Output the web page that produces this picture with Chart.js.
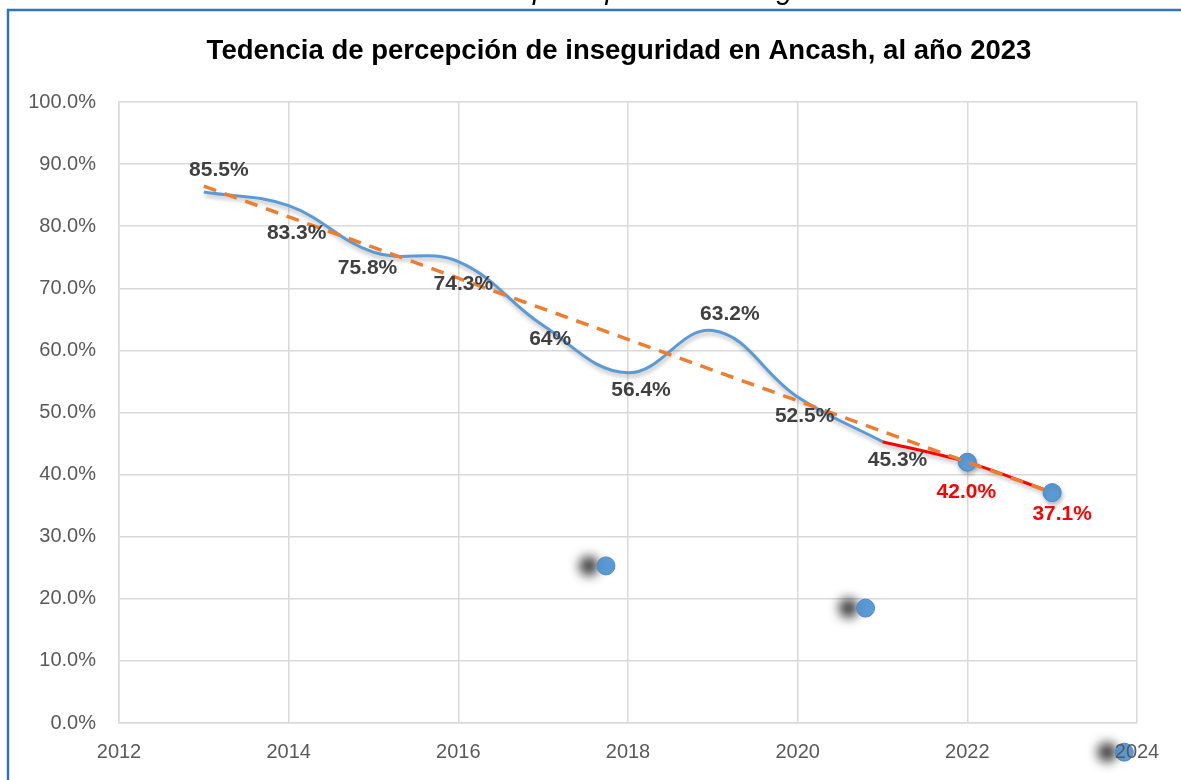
<!DOCTYPE html>
<html>
<head>
<meta charset="utf-8">
<script src="https://cdn.jsdelivr.net/npm/chart.js"></script>
<style>
  html, body { margin: 0; padding: 0; background: #fff; }
  canvas { display: block; }
</style>
</head>
<body>
<canvas id="grafico" width="1181" height="780"></canvas>
<script>
// percepción de inseguridad por año (%)
const anios = [2013, 2014, 2015, 2016, 2017, 2018, 2019, 2020, 2021, 2022, 2023];
const percepcion = [85.5, 83.3, 75.8, 74.3, 64, 56.4, 63.2, 52.5, 45.3, 42.0, 37.1];
const etiquetas = ['85.5%', '83.3%', '75.8%', '74.3%', '64%', '56.4%', '63.2%', '52.5%', '45.3%', '42.0%', '37.1%'];

// marcadores sueltos que quedaron sobre el gráfico
const sueltosX = [2017.74, 2020.8, 2023.85];
const sueltosY = [25.3, 18.5, -4.7];

const ticksX = [2012, 2014, 2016, 2018, 2020, 2022, 2024];

const titulo = 'Tedencia de percepción de inseguridad en Ancash, al año 2023';

// desplazamiento de cada etiqueta respecto a su punto (px)
const offsetsEtiq = [[15, -22], [8, 27], [-6, 16], [5, 23], [7, 14], [13, 17], [17, -16], [7, 19], [15, 19], [-1, 30], [10, 22]];

const AZUL = '#5B9BD5';
const ROJO = '#FF0000';
const NARANJA = '#ED7D31';
const GRIS = '#404040';

const pts = (xs, ys) => xs.map((x, i) => ({ x: x, y: ys[i] }));

// tendencia lineal (mínimos cuadrados), como la de Excel
function tendencia(xs, ys) {
  const n = xs.length;
  const mx = xs.reduce((a, b) => a + b, 0) / n;
  const my = ys.reduce((a, b) => a + b, 0) / n;
  let sxy = 0, sxx = 0;
  xs.forEach((x, i) => { sxy += (x - mx) * (ys[i] - my); sxx += (x - mx) * (x - mx); });
  const m = sxy / sxx;
  const b = my - m * mx;
  const x0 = xs[0], x1 = xs[n - 1];
  return [{ x: x0, y: m * x0 + b }, { x: x1, y: m * x1 + b }];
}

const corte = 8; // desde 2021 la línea va en rojo
const tramoAzul = pts(anios.slice(0, corte + 1), percepcion.slice(0, corte + 1));
const tramoRojo = pts(anios.slice(corte), percepcion.slice(corte));

const marcoYTexto = {
  id: 'marcoYTexto',
  beforeDraw(chart) {
    const ctx = chart.ctx;
    ctx.save();
    ctx.fillStyle = '#fff';
    ctx.fillRect(0, 0, chart.width, chart.height);
    // leyenda de la figura, cortada por el borde superior
    ctx.fillStyle = '#000';
    ctx.font = 'italic 29px "Liberation Sans", Arial, sans-serif';
    ctx.textBaseline = 'alphabetic';
    ctx.textAlign = 'left';
    ctx.fillText('percepción de inseguridad', 533, -1);
    // marco del gráfico
    ctx.strokeStyle = '#2E75B6';
    ctx.lineWidth = 2.5;
    ctx.beginPath();
    ctx.moveTo(8, chart.height + 5);
    ctx.lineTo(8, 10);
    ctx.lineTo(chart.width + 5, 10);
    ctx.stroke();
    // título
    ctx.fillStyle = '#000';
    ctx.font = 'bold 27.5px "Liberation Sans", Arial, sans-serif';
    ctx.textAlign = 'center';
    ctx.textBaseline = 'middle';
    ctx.fillText(titulo, 619, 51);
    ctx.restore();
  }
};

function sombraPunto(ctx) {
  ctx.shadowColor = 'rgba(0,0,0,0.8)';
  ctx.shadowBlur = 11;
  ctx.shadowOffsetX = -17;
  ctx.shadowOffsetY = 0;
}

const sombras = {
  id: 'sombras',
  beforeDatasetDraw(chart, args) {
    const ds = chart.data.datasets[args.index];
    const ctx = chart.ctx;
    ctx.save();
    if (ds.sombra === 'punto') {
      sombraPunto(ctx);
    } else if (ds.sombra === 'linea') {
      ctx.shadowColor = 'rgba(0,0,0,0.28)';
      ctx.shadowBlur = 4;
      ctx.shadowOffsetX = 1;
      ctx.shadowOffsetY = 3;
    }
  },
  afterDatasetDraw(chart, args) {
    const ctx = chart.ctx;
    ctx.restore();
    const ds = chart.data.datasets[args.index];
    if (ds.sombra !== 'punto') return;
    // los puntos fuera del área del gráfico no los dibuja Chart.js
    const a = chart.chartArea;
    ctx.save();
    sombraPunto(ctx);
    args.meta.data.forEach(el => {
      if (el.x < a.left || el.x > a.right || el.y < a.top || el.y > a.bottom) el.draw(ctx);
    });
    ctx.restore();
  }
};

const etiquetasPlugin = {
  id: 'etiquetasPlugin',
  afterDatasetsDraw(chart) {
    const ctx = chart.ctx;
    const sx = chart.scales.x, sy = chart.scales.y;
    ctx.save();
    ctx.font = 'bold 21px "Liberation Sans", Arial, sans-serif';
    ctx.textAlign = 'center';
    ctx.textBaseline = 'middle';
    anios.forEach((a, i) => {
      const px = sx.getPixelForValue(a) + offsetsEtiq[i][0];
      const py = sy.getPixelForValue(percepcion[i]) + offsetsEtiq[i][1];
      ctx.fillStyle = i > corte ? ROJO : GRIS;
      ctx.fillText(etiquetas[i], px, py);
    });
    ctx.restore();
  }
};

new Chart(document.getElementById('grafico'), {
  type: 'line',
  data: {
    datasets: [
      {
        label: 'Tendencia',
        data: tendencia(anios, percepcion),
        borderColor: NARANJA,
        borderWidth: 3.5,
        borderDash: [13, 9],
        pointRadius: 0,
        tension: 0,
        order: 0
      },
      {
        label: 'Percepción',
        data: tramoAzul,
        borderColor: AZUL,
        borderWidth: 3,
        pointRadius: 0,
        tension: 0.4,
        sombra: 'linea',
        order: 3
      },
      {
        label: 'Percepción 2021-2023',
        data: tramoRojo,
        borderColor: ROJO,
        borderWidth: 3,
        tension: 0.3,
        pointRadius: [0, 9, 9],
        pointBackgroundColor: AZUL,
        pointBorderColor: '#4A89C8',
        pointBorderWidth: 1,
        sombra: 'linea',
        order: 2
      },
      {
        label: 'Sueltos',
        type: 'scatter',
        data: pts(sueltosX, sueltosY),
        pointRadius: 9,
        pointBackgroundColor: AZUL,
        pointBorderColor: '#4A89C8',
        pointBorderWidth: 1,
        showLine: false,
        clip: false,
        sombra: 'punto',
        order: 1
      }
    ]
  },
  options: {
    responsive: false,
    animation: false,
    devicePixelRatio: 1,
    layout: { padding: { top: 102, right: 44, bottom: 0, left: 0 } },
    plugins: {
      legend: { display: false },
      title: { display: false },
      tooltip: { enabled: false }
    },
    scales: {
      x: {
        type: 'linear',
        min: ticksX[0],
        max: ticksX[ticksX.length - 1],
        afterBuildTicks(scale) { scale.ticks = ticksX.map(v => ({ value: v })); },
        afterFit(scale) { scale.height = 57; },
        grid: { color: '#d9d9d9', lineWidth: 1.5, drawTicks: false },
        border: { color: '#d9d9d9', width: 1.5 },
        ticks: {
          z: 1, // el texto del eje va encima de los puntos
          padding: 17,
          color: '#595959',
          font: { family: '"Liberation Sans", Arial, sans-serif', size: 20 },
          callback: v => String(v)
        }
      },
      y: {
        min: 0,
        max: 100,
        afterFit(scale) { scale.width = 119; },
        grid: { color: '#d9d9d9', lineWidth: 1.5, drawTicks: false },
        border: { color: '#d9d9d9', width: 1.5 },
        ticks: {
          stepSize: 10,
          padding: 23,
          color: '#595959',
          font: { family: '"Liberation Sans", Arial, sans-serif', size: 20 },
          callback: v => v.toFixed(1) + '%'
        }
      }
    }
  },
  plugins: [marcoYTexto, sombras, etiquetasPlugin]
});
</script>
</body>
</html>
